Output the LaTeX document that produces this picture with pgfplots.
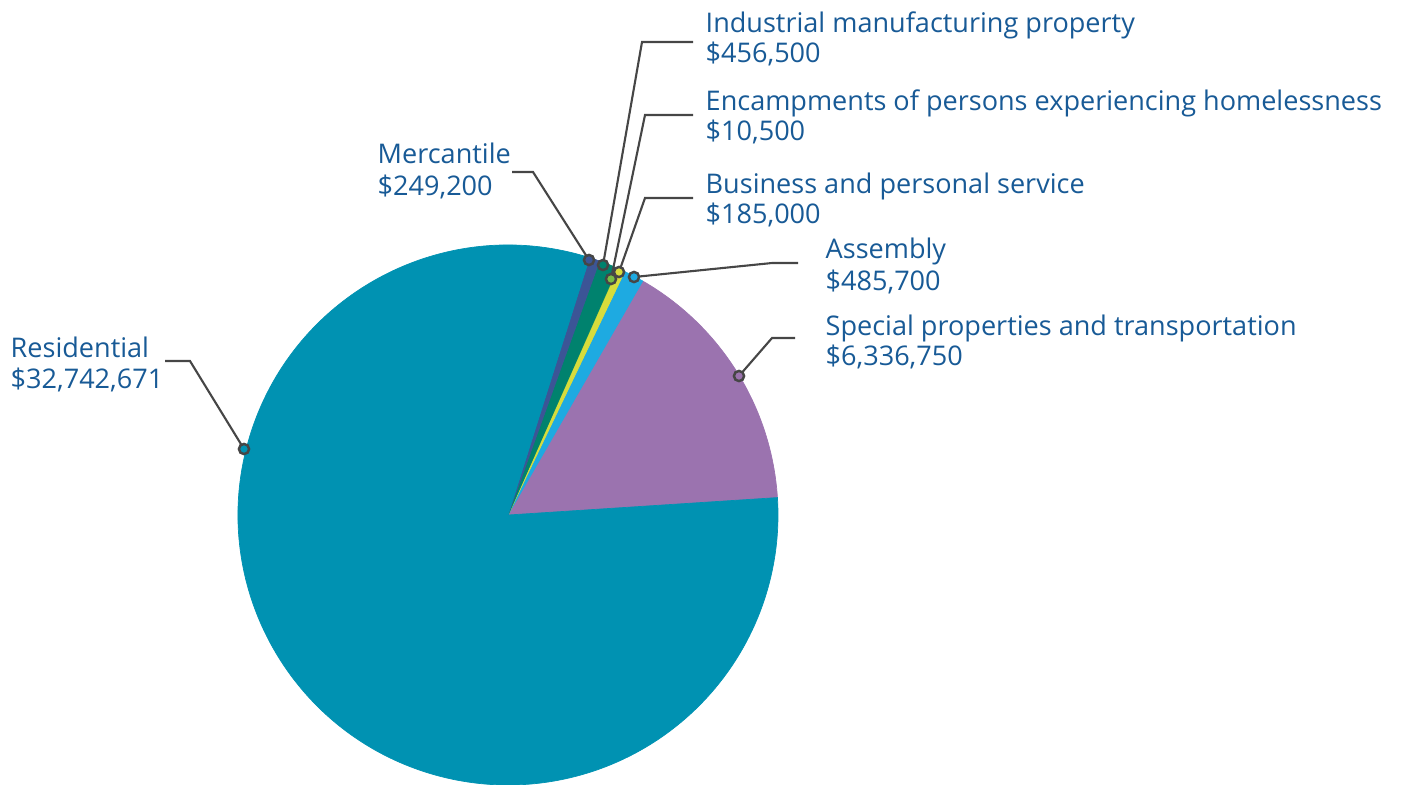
\documentclass[border=0pt]{standalone}
\usepackage{pgfplots}
\usepackage{pgfplotstable}
\pgfplotsset{compat=1.18}
\usepackage{fontspec}
\setmainfont{Open Sans}

\definecolor{cRes}{RGB}{0,146,178}
\definecolor{cSpe}{RGB}{155,115,175}
\definecolor{cAss}{RGB}{30,170,225}
\definecolor{cBus}{RGB}{215,220,60}
\definecolor{cEnc}{RGB}{120,190,70}
\definecolor{cInd}{RGB}{0,130,110}
\definecolor{cMer}{RGB}{60,85,150}
\definecolor{txt}{RGB}{24,90,150}
\definecolor{lead}{RGB}{70,70,70}

\tikzset{
  lab/.style={font=\fontsize{7.7}{9}\selectfont, text=txt, inner sep=0pt, anchor=base west},
  ldr/.style={draw=lead, line width=0.6pt},
}
\pgfplotsset{
  dot/.style={only marks, mark=*, mark size=1.45pt, mark options={draw=lead, line width=0.7pt, fill=#1}},
}

% slices counter-clockwise, starting just above 3 o'clock
\pgfplotstableread{
name value colour
Special 6336750 cSpe
Assembly 485700 cAss
Business 185000 cBus
Encampments 10500 cEnc
Industrial 456500 cInd
Mercantile 249200 cMer
Residential 32742671 cRes
}\piedata

\def\total{0}
\pgfplotsforeachungrouped \i in {0,...,6}{%
  \pgfplotstablegetelem{\i}{value}\of\piedata
  \edef\total{\fpeval{\total+\pgfplotsretval}}}

\begin{document}
\begin{tikzpicture}
\begin{axis}[
  at={(0,0)}, anchor=south west,
  scale only axis, width=14.03cm, height=7.84cm,
  xmin=0, xmax=1403, ymin=0, ymax=784, y dir=reverse,
  hide axis, clip=false,
]
\def\angstart{3.7}
\pgfplotsforeachungrouped \i in {0,...,6}{%
  \pgfplotstablegetelem{\i}{value}\of\piedata \let\v\pgfplotsretval
  \pgfplotstablegetelem{\i}{colour}\of\piedata \let\c\pgfplotsretval
  \edef\angend{\fpeval{\angstart+360*\v/\total}}%
  \edef\cmd{\noexpand\fill[\c, draw=\c, line width=0.2pt] (axis cs:508,515) -- +(\angstart:2.7cm)
    arc[start angle=\angstart, end angle=\angend, radius=2.7cm] -- cycle;}%
  \cmd
  \let\angstart\angend
}

% leader lines
\addplot[ldr, no marks] coordinates {(165,361) (190,361) (244,449)};
\addplot[ldr, no marks] coordinates {(512,172) (533,172) (589,260)};
\addplot[ldr, no marks] coordinates {(693,42) (642,42) (603,265)};
\addplot[ldr, no marks] coordinates {(693,115) (645,115) (611,279)};
\addplot[ldr, no marks] coordinates {(693,198) (645,198) (619,272)};
\addplot[ldr, no marks] coordinates {(634,277) (772,263) (798,263)};
\addplot[ldr, no marks] coordinates {(739,376) (772,338) (795,338)};

% end dots
\addplot[dot=cRes] coordinates {(244,449)};
\addplot[dot=cMer] coordinates {(589,260)};
\addplot[dot=cInd] coordinates {(603,265)};
\addplot[dot=cEnc] coordinates {(611,279)};
\addplot[dot=cBus] coordinates {(619,272)};
\addplot[dot=cAss] coordinates {(634,277)};
\addplot[dot=cSpe] coordinates {(739,376)};

% labels
\node[lab] at (axis cs:10,357) {Residential};
\node[lab] at (axis cs:10,388) {\$32,742,671};
\node[lab] at (axis cs:377,163) {Mercantile};
\node[lab] at (axis cs:377,195) {\$249,200};
\node[lab] at (axis cs:705,32) {Industrial manufacturing property};
\node[lab] at (axis cs:705,62) {\$456,500};
\node[lab] at (axis cs:705,110) {Encampments of persons experiencing homelessness};
\node[lab] at (axis cs:705,140) {\$10,500};
\node[lab] at (axis cs:705,193) {Business and personal service};
\node[lab] at (axis cs:705,223) {\$185,000};
\node[lab] at (axis cs:825,258) {Assembly};
\node[lab] at (axis cs:825,290) {\$485,700};
\node[lab] at (axis cs:825,335) {Special properties and transportation};
\node[lab] at (axis cs:825,365) {\$6,336,750};
\end{axis}
\pgfresetboundingbox
\path[use as bounding box] (0,0) rectangle (14.03cm,7.84cm);
\end{tikzpicture}
\end{document}
